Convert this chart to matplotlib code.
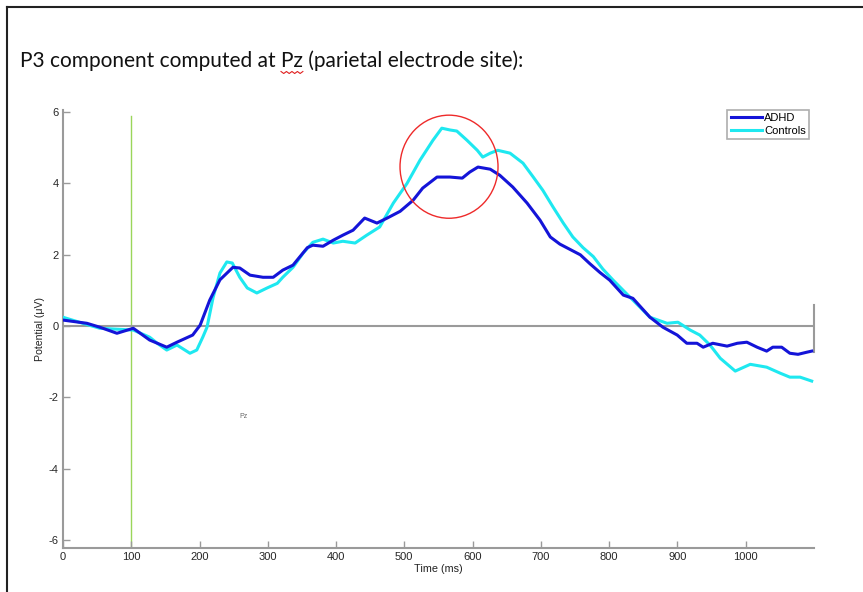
import numpy as np
import matplotlib
matplotlib.use("Agg")
import matplotlib.pyplot as plt
from matplotlib.lines import Line2D
from matplotlib.patches import Ellipse

plt.rcParams["axes.unicode_minus"] = False

# ERP traces (time in ms, potential in uV)
adhd_t = [0, 35, 54, 79, 103, 127, 152, 167, 190, 201, 215, 230, 249, 259, 274,
          293, 308, 322, 337, 358, 366, 381, 396, 410, 425, 442, 460, 475, 494,
          513, 527, 548, 567, 585, 596, 608, 626, 640, 659, 680, 699, 714, 728,
          743, 758, 772, 787, 801, 821, 835, 860, 879, 900, 914, 929, 938, 952,
          973, 988, 1002, 1017, 1031, 1040, 1053, 1065, 1077, 1090, 1097]
adhd_v = [0.17, 0.08, -0.03, -0.2, -0.06, -0.39, -0.59, -0.45, -0.25, 0.03, 0.73,
          1.3, 1.65, 1.63, 1.43, 1.37, 1.37, 1.57, 1.71, 2.2, 2.27, 2.24, 2.41,
          2.55, 2.69, 3.03, 2.89, 3.03, 3.22, 3.53, 3.87, 4.18, 4.18, 4.15, 4.32,
          4.46, 4.4, 4.23, 3.9, 3.45, 2.97, 2.5, 2.3, 2.15, 2.0, 1.75, 1.5, 1.29,
          0.87, 0.78, 0.25, -0.03, -0.25, -0.48, -0.48, -0.59, -0.48, -0.56,
          -0.48, -0.45, -0.59, -0.7, -0.59, -0.59, -0.76, -0.79, -0.73, -0.7]

ctrl_t = [0, 29, 54, 103, 127, 138, 152, 167, 186, 196, 205, 211, 220, 230, 240,
          248, 259, 270, 284, 299, 314, 322, 337, 352, 366, 381, 396, 410, 428,
          445, 464, 484, 504, 523, 542, 555, 567, 577, 592, 607, 615, 626, 637,
          655, 674, 689, 703, 718, 733, 747, 762, 777, 791, 806, 835, 860, 885,
          901, 919, 933, 948, 963, 985, 1007, 1031, 1051, 1065, 1080, 1097]
ctrl_v = [0.25, 0.08, -0.06, -0.11, -0.31, -0.48, -0.67, -0.53, -0.76, -0.67,
          -0.3, -0.03, 0.81, 1.49, 1.8, 1.77, 1.37, 1.07, 0.93, 1.07, 1.2, 1.37,
          1.65, 2.05, 2.35, 2.44, 2.33, 2.38, 2.33, 2.55, 2.78, 3.45, 4.0, 4.65,
          5.21, 5.55, 5.5, 5.47, 5.21, 4.93, 4.74, 4.85, 4.93, 4.85, 4.57, 4.18,
          3.81, 3.34, 2.89, 2.5, 2.2, 1.95, 1.6, 1.29, 0.73, 0.25, 0.08, 0.11,
          -0.11, -0.25, -0.53, -0.9, -1.26, -1.07, -1.15, -1.32, -1.43, -1.43,
          -1.54]

x_ticks = [0, 100, 200, 300, 400, 500, 600, 700, 800, 900, 1000]
y_ticks = [-6, -4, -2, 0, 2, 4, 6]
title = "P3 component computed at Pz (parietal electrode site):"

W, H = 863, 592
fig = plt.figure(figsize=(W / 100, H / 100), dpi=100)
fig.patch.set_facecolor("white")

ax = fig.add_axes([63 / W, 1 - 548 / H, 750.75 / W, 438 / H])
ax.set_xlim(0, 1100)
ax.set_ylim(-6.22, 6.06)

gray = "#9a9a9a"
ax.plot(ctrl_t, ctrl_v, color="#1ee8f0", lw=2.2, label="Controls", zorder=3)
ax.plot(adhd_t, adhd_v, color="#1414d8", lw=2.2, label="ADHD", zorder=4)

# zero line, right-end marker, stimulus line
ax.axhline(0, color=gray, lw=1.5, zorder=2)
ax.plot([1100, 1100], [0.59, -0.73], color=gray, lw=1.5, clip_on=False, zorder=2)
ax.plot([100, 100], [5.9, -6.22], color="#9ad65a", lw=1.0, zorder=1)

ax.add_patch(Ellipse((565.6, 4.47), 143.6, 2.89, fill=False,
                     edgecolor="#ee2a2a", lw=1.0, zorder=5))
ax.text(264, -2.52, "Pz", fontsize=5, color="#666666",
        family="Liberation Sans", ha="center", va="center")

for s in ["top", "right"]:
    ax.spines[s].set_visible(False)
for s in ["left", "bottom"]:
    ax.spines[s].set_color(gray)
    ax.spines[s].set_linewidth(1.5)
ax.set_xticks(x_ticks)
ax.set_yticks(y_ticks)
ax.tick_params(direction="in", length=5, width=1, color=gray,
               labelsize=8, labelcolor="#262626", pad=3)
for lab in ax.get_xticklabels() + ax.get_yticklabels():
    lab.set_family("Liberation Sans")
ax.set_xlabel("Time (ms)", fontsize=7.8, color="#222222",
              family="Liberation Sans", labelpad=1)
ax.set_ylabel("Potential (\u03bcV)", fontsize=7.6, color="#222222",
              family="Liberation Sans", labelpad=3)

h, l = ax.get_legend_handles_labels()
leg = ax.legend(h[::-1], l[::-1], loc="upper right",
                bbox_to_anchor=(809 / W, 1 - 110 / H),
                bbox_transform=fig.transFigure, borderaxespad=0,
                fancybox=False, edgecolor=gray, handlelength=2.8,
                handletextpad=0.2, borderpad=0.3, labelspacing=0.2,
                prop={"family": "Liberation Sans", "size": 8})
leg.get_frame().set_linewidth(1.2)

# document title, scaled to the width seen in the screenshot
t = fig.text(20 / W, 1 - 67 / H, title, fontsize=14, family="Lato",
             color="#111111", ha="left", va="baseline")
fig.canvas.draw()
r = fig.canvas.get_renderer()
wpx = t.get_window_extent(r).width
t.set_fontsize(14 * 505 / wpx)
fig.canvas.draw()

# spell-check squiggle under "Pz"
pre = fig.text(20 / W, 1 - 67 / H, "P3 component computed at ",
               fontsize=t.get_fontsize(), family="Lato", alpha=0)
pz = fig.text(0, 0, "Pz", fontsize=t.get_fontsize(), family="Lato", alpha=0)
fig.canvas.draw()
x0 = 20 + pre.get_window_extent(r).width
x1 = x0 + pz.get_window_extent(r).width
zx = np.linspace(x0, x1, 9)
zy = np.where(np.arange(9) % 2 == 0, 71.5, 73.5)
fig.add_artist(Line2D(zx / W, 1 - zy / H, color="#e02020", lw=0.8))

# page border edges
fig.add_artist(Line2D([7 / W, 1], [1 - 7 / H, 1 - 7 / H], color="#222222", lw=1.5))
fig.add_artist(Line2D([7 / W, 7 / W], [0, 1 - 7 / H], color="#222222", lw=1.5))

fig.savefig("out.png", dpi=100)
